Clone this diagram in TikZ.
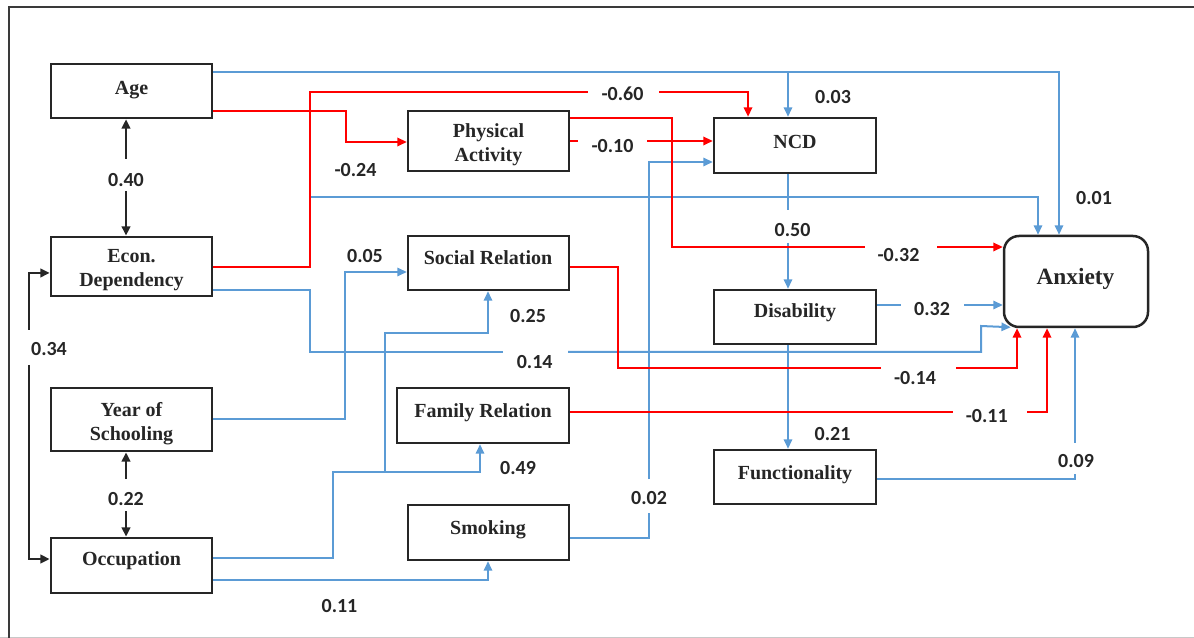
\documentclass[tikz,border=0pt]{standalone}
\usepackage{fontspec}
\setmainfont{Liberation Serif}
\newfontfamily\coeffont{Carlito}
\usetikzlibrary{arrows.meta,calc}
\definecolor{linkblue}{HTML}{5B9BD5}
\definecolor{linkred}{HTML}{FF0000}
\definecolor{framegray}{HTML}{3A3A3A}
\definecolor{edgegray}{HTML}{C8C8C8}

\begin{document}
\begin{tikzpicture}[x=0.6pt,y=-0.6pt,
  varbox/.style={draw=black!85, line width=1.5pt, inner sep=0pt},
  outbox/.style={varbox, rounded corners=9pt},
  boxtext/.style={font=\fontsize{12}{14.4}\selectfont\bfseries, align=center, inner sep=0pt, text=black!85, yshift=-1.8pt},
  coef/.style={font=\coeffont\fontsize{12}{14}\selectfont\bfseries, inner sep=0pt, text=black!85},
  arr/.style={-{Triangle[length=5.6pt,width=5pt]}},
  poslink/.style={draw=linkblue, line width=1.2pt},
  neglink/.style={draw=linkred, line width=1.3pt},
  corrlink/.style={draw=black!85, line width=1.5pt},
]
\useasboundingbox (0,0) rectangle (1194,638);

% frame
\draw[edgegray, line width=0.6pt] (0,637) -- (1194,637);
\draw[framegray, line width=1.6pt] (9,638) -- (9,7) -- (1194,7);

% variable boxes
\node[varbox, minimum width=96.6pt, minimum height=32.4pt] (age)  at (131.5,91)   {};
\node[varbox, minimum width=96.6pt, minimum height=35.4pt] (econ) at (131.5,266.5) {};
\node[varbox, minimum width=96.6pt, minimum height=37.8pt] (year) at (131.5,419.5) {};
\node[varbox, minimum width=96.6pt, minimum height=33pt]   (occ)  at (131.5,565.5) {};
\node[varbox, minimum width=96.6pt, minimum height=36pt]   (pa)   at (488.5,141)   {};
\node[varbox, minimum width=96.6pt, minimum height=32.4pt] (sr)   at (488.5,263)   {};
\node[varbox, minimum width=103.2pt, minimum height=33pt]  (fr)   at (483,415.5)   {};
\node[varbox, minimum width=96.6pt, minimum height=33pt]   (smk)  at (488.5,532.5) {};
\node[varbox, minimum width=97.2pt, minimum height=33pt]   (ncd)  at (795,145.5)   {};
\node[varbox, minimum width=97.2pt, minimum height=32.4pt] (dis)  at (795,317)     {};
\node[varbox, minimum width=97.2pt, minimum height=32.4pt] (fun)  at (795,477)     {};
\node[outbox, minimum width=86.4pt, minimum height=54.6pt] (anx)  at (1076,281.5)  {};

% box captions
\node[boxtext] (age-t)  at (131.5,87)  {Age};
\node[boxtext] (econ-t) at (131.5,267.5) {Econ.\\Dependency};
\node[boxtext] (year-t) at (131.5,420.5) {Year of\\Schooling};
\node[boxtext] (occ-t)  at (131.5,558) {Occupation};
\node[boxtext] (pa-t)   at (488.5,142) {Physical\\Activity};
\node[boxtext] (sr-t)   at (488,255)   {Social Relation};
\node[boxtext] (fr-t)   at (483,410)   {Family Relation};
\node[boxtext] (smk-t)  at (488,527)   {Smoking};
\node[boxtext] (ncd-t)  at (795,139)   {NCD};
\node[boxtext] (dis-t)  at (795,310)   {Disability};
\node[boxtext] (fun-t)  at (795,472)   {Functionality};
\node[boxtext, font=\fontsize{14}{16}\selectfont\bfseries] (anx-t) at (1075.5,276) {Anxiety};

% positive paths (blue)
\coordinate (agejoin) at (788,72);
\draw[poslink, arr] (age.east |- 0,72) -- (1059,72) -- (anx.north -| 1059,0);
\draw[poslink, arr] (agejoin) -- (ncd.north -| 788,0);
\draw[poslink, arr] (econ.east |- 0,267) -- (310,267) -- (310,197) -- (1038,197) -- (anx.north -| 1038,0);

\coordinate (g14a) at (503,352);
\coordinate (g14b) at (568,352);
\draw[poslink] (econ.east |- 0,290) -- (310,290) -- (310,352) -- (g14a);
\draw[poslink, arr] (g14b) -- (981,352) -- (981,326) -- ($(anx.south west)+(8,-1)$);

\draw[poslink, arr] (year.east |- 0,419) -| (345,272) -- (sr.west |- 0,272);

\coordinate (occjoin) at (385,472);
\draw[poslink, arr] (occ.east |- 0,558) -| (333,472) -- (480,472) -- (fr.south -| 480,0);
\draw[poslink, arr] (occjoin) -- (385,333) -- (488,333) -- (sr.south -| 488,0);
\draw[poslink, arr] (occ.east |- 0,580) -- (488,580) -- (smk.south -| 488,0);

\coordinate (g02a) at (649,513);
\coordinate (g02b) at (649,479);
\draw[poslink] (smk.east |- 0,538) -| (g02a);
\draw[poslink, arr] (g02b) -- (649,162) -- (ncd.west |- 0,162);

\coordinate (g50a) at (788,210);
\coordinate (g50b) at (788,243);
\draw[poslink] (ncd.south -| 788,0) -- (g50a);
\draw[poslink, arr] (g50b) -- (dis.north -| 788,0);

\coordinate (g32a) at (901,305);
\coordinate (g32b) at (964,305);
\draw[poslink] (dis.east |- 0,305) -- (g32a);
\draw[poslink, arr] (g32b) -- (anx.west |- 0,305);

\draw[poslink, arr] (dis.south -| 788,0) -- (fun.north -| 788,0);

\coordinate (g09a) at (1075,474);
\coordinate (g09b) at (1075,443);
\draw[poslink] (fun.east |- 0,479) -| (g09a);
\draw[poslink, arr] (g09b) -- (anx.south -| 1075,0);

% negative paths (red)
\draw[neglink, arr] (age.east |- 0,111) -| (346,142) -- (pa.west |- 0,142);

\coordinate (g60a) at (588,92);
\coordinate (g60b) at (659,92);
\draw[neglink] (econ.east |- 0,267) -- (310,267) -- (310,92) -- (g60a);
\draw[neglink, arr] (g60b) -| (ncd.north -| 748,0);

\coordinate (g10a) at (578,141);
\coordinate (g10b) at (647,141);
\draw[neglink] (pa.east |- 0,141) -- (g10a);
\draw[neglink, arr] (g10b) -- (ncd.west |- 0,141);

\coordinate (g32na) at (865,247);
\coordinate (g32nb) at (937,247);
\draw[neglink] (pa.east |- 0,118) -| (672,247) -- (g32na);
\draw[neglink, arr] (g32nb) -- (anx.west |- 0,247);

\coordinate (g14na) at (881,368);
\coordinate (g14nb) at (956,368);
\draw[neglink] (sr.east |- 0,267) -| (618,368) -- (g14na);
\draw[neglink, arr] (g14nb) -| (anx.south -| 1017,0);

\coordinate (g11a) at (953,412);
\coordinate (g11b) at (1027,412);
\draw[neglink] (fr.east |- 0,412) -- (g11a);
\draw[neglink, arr] (g11b) -| (anx.south -| 1047,0);

% correlations (black)
\coordinate (c40a) at (126,159);
\coordinate (c40b) at (126,191);
\draw[corrlink, arr] (c40a) -- (age.south -| 126,0);
\draw[corrlink, arr] (c40b) -- (econ.north -| 126,0);

\coordinate (c22a) at (126,479);
\coordinate (c22b) at (126,511);
\draw[corrlink, arr] (c22a) -- (year.south -| 126,0);
\draw[corrlink, arr] (c22b) -- (occ.north -| 126,0);

\coordinate (c34a) at (29,330);
\coordinate (c34b) at (29,365);
\draw[corrlink, arr] (c34a) -- (29,273) -- (econ.west |- 0,273);
\draw[corrlink, arr] (c34b) -- (29,559) -- (occ.west |- 0,559);

% coefficients
\node[coef] (k40)  at (126,180)   {0.40};
\node[coef] (k22)  at (126,499)   {0.22};
\node[coef] (k34)  at (49,349)    {0.34};
\node[coef] (k24)  at (355.5,170) {-0.24};
\node[coef] (k60)  at (622.5,94)  {-0.60};
\node[coef] (k10)  at (612.5,146) {-0.10};
\node[coef] (k03)  at (833,97)    {0.03};
\node[coef] (k01)  at (1094,198)  {0.01};
\node[coef] (k50)  at (792.5,230) {0.50};
\node[coef] (k32n) at (898.5,255) {-0.32};
\node[coef] (k32)  at (932,309)   {0.32};
\node[coef] (k05)  at (365,256)   {0.05};
\node[coef] (k25)  at (528,316)   {0.25};
\node[coef] (k14)  at (534.7,362) {0.14};
\node[coef] (k49)  at (518,468)   {0.49};
\node[coef] (k11p) at (339.5,606) {0.11};
\node[coef] (k02)  at (649,498)   {0.02};
\node[coef] (k14n) at (915,378)   {-0.14};
\node[coef] (k11n) at (986.7,416) {-0.11};
\node[coef] (k21)  at (832.5,434) {0.21};
\node[coef] (k09)  at (1076,461)  {0.09};
\end{tikzpicture}
\end{document}
